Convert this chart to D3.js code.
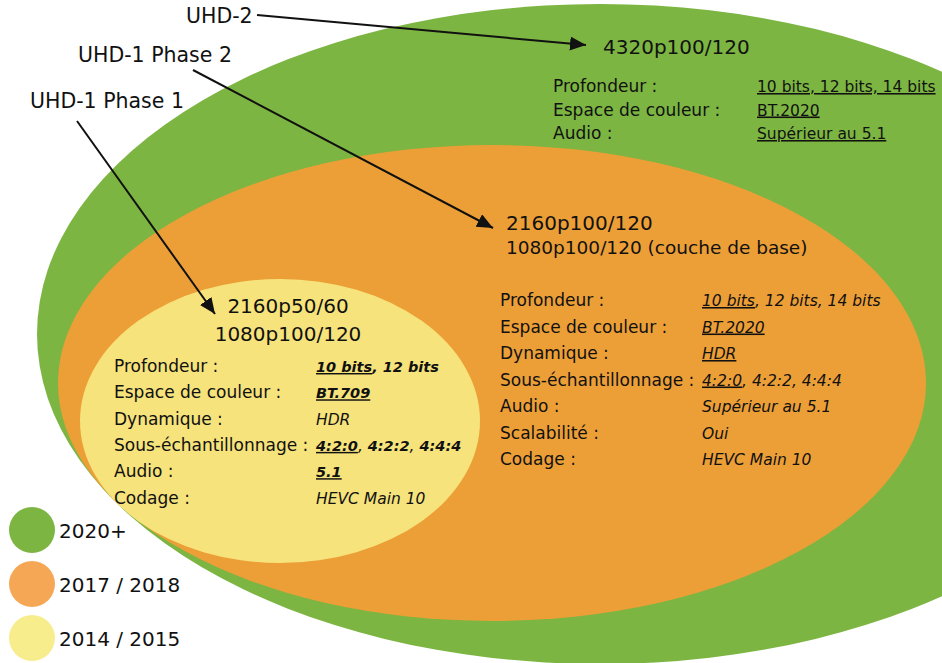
<!DOCTYPE html>
<meta charset="utf-8">
<html>
  <style>
    body { margin: 0; background: #fff; }
    svg text { font-family: "DejaVu Sans", sans-serif; fill: #111; }
    .arrow { stroke: #111; stroke-width: 2px; fill: none; }
  </style>
  <head>
    <script src="https://d3js.org/d3.v7.min.js"></script>
  </head>
  <body>
    <script>
      // diagram content
      var tiers = ["UHD-2", "UHD-1 Phase 2", "UHD-1 Phase 1"];
      var legendYears = ["2020+", "2017 / 2018", "2014 / 2015"];
      var formats = [["4320p100/120"],
                     ["2160p100/120", "1080p100/120 (couche de base)"],
                     ["2160p50/60", "1080p100/120"]];

      // "_" toggles underline, "*" toggles bold
      var uhd2Labels = ["Profondeur :", "Espace de couleur :", "Audio :"];
      var uhd2Values = ["_10 bits, 12 bits, 14 bits_", "_BT.2020_", "_Supérieur au 5.1_"];

      var phase2Labels = ["Profondeur :", "Espace de couleur :", "Dynamique :", "Sous-échantillonnage :",
                          "Audio :", "Scalabilité :", "Codage :"];
      var phase2Values = ["_10 bits_, 12 bits, 14 bits", "_BT.2020_", "_HDR_", "_4:2:0_, 4:2:2, 4:4:4",
                          "Supérieur au 5.1", "Oui", "HEVC Main 10"];

      var phase1Labels = ["Profondeur :", "Espace de couleur :", "Dynamique :", "Sous-échantillonnage :",
                          "Audio :", "Codage :"];
      var phase1Values = ["*_10 bits_, 12 bits*", "*_BT.709_*", "HDR", "*_4:2:0_*, *4:2:2*, *4:4:4*",
                          "*_5.1_*", "HEVC Main 10"];

      // layout (pixels)
      var width = 942, height = 663;
      var ellipses = [
        {cx: 600, cy: 334, rx: 563, ry: 330, fill: "#7cb542"},
        {cx: 492, cy: 383, rx: 434, ry: 238, fill: "#ed9f37"},
        {cx: 280, cy: 421, rx: 200, ry: 142, fill: "#f6e37b"}
      ];
      var legendFill = ["#7cb542", "#f6a755", "#f7ed8c"];
      var arrows = [
        {x1: 257, y1: 15, x2: 586, y2: 45, lx: 186, ly: 23},
        {x1: 193, y1: 70, x2: 493, y2: 228, lx: 78, ly: 62},
        {x1: 77, y1: 121, x2: 215, y2: 314, lx: 30, ly: 108}
      ];

      var svg = d3.select("body").append("svg")
          .attr("width", width)
          .attr("height", height);

      svg.append("defs").append("marker")
          .attr("id", "head")
          .attr("markerUnits", "userSpaceOnUse")
          .attr("markerWidth", 18).attr("markerHeight", 16)
          .attr("refX", 16).attr("refY", 7)
          .attr("orient", "auto")
        .append("path")
          .attr("d", "M0,0 L16,7 L0,14 Z")
          .attr("fill", "#111");

      svg.selectAll("ellipse.zone").data(ellipses).enter().append("ellipse")
          .attr("class", "zone")
          .attr("cx", function(d) { return d.cx; })
          .attr("cy", function(d) { return d.cy; })
          .attr("rx", function(d) { return d.rx; })
          .attr("ry", function(d) { return d.ry; })
          .attr("fill", function(d) { return d.fill; });

      // tier labels + arrows
      svg.selectAll("line.arrow").data(arrows).enter().append("line")
          .attr("class", "arrow")
          .attr("x1", function(d) { return d.x1; })
          .attr("y1", function(d) { return d.y1; })
          .attr("x2", function(d) { return d.x2; })
          .attr("y2", function(d) { return d.y2; })
          .attr("marker-end", "url(#head)");

      svg.selectAll("text.tier").data(tiers).enter().append("text")
          .attr("class", "tier")
          .attr("x", function(d, i) { return arrows[i].lx; })
          .attr("y", function(d, i) { return arrows[i].ly; })
          .style("font-size", "20.5px")
          .text(function(d) { return d; });

      // headings
      svg.append("text").attr("x", 603).attr("y", 54).style("font-size", "20px").text(formats[0][0]);
      svg.append("text").attr("x", 506).attr("y", 230).style("font-size", "20px").text(formats[1][0]);
      svg.append("text").attr("x", 506).attr("y", 254).style("font-size", "18.5px").text(formats[1][1]);
      svg.selectAll("text.f3").data(formats[2]).enter().append("text")
          .attr("class", "f3")
          .attr("x", 288)
          .attr("y", function(d, i) { return 313 + i * 28; })
          .attr("text-anchor", "middle")
          .style("font-size", "20px")
          .text(function(d) { return d; });

      function segments(s) {
        var out = [], u = false, b = false, buf = "";
        for (var k = 0; k < s.length; k++) {
          var ch = s[k];
          if (ch === "_" || ch === "*") {
            if (buf) out.push({t: buf, u: u, b: b});
            buf = "";
            if (ch === "_") u = !u; else b = !b;
          } else buf += ch;
        }
        if (buf) out.push({t: buf, u: u, b: b});
        return out;
      }

      function specBlock(labels, values, o) {
        var g = svg.append("g");
        g.selectAll("text.lab").data(labels).enter().append("text")
            .attr("x", o.lx)
            .attr("y", function(d, i) { return o.y0 + i * o.step; })
            .style("font-size", "17px")
            .text(function(d) { return d; });
        g.selectAll("text.val").data(values).enter().append("text")
            .attr("x", o.vx)
            .attr("y", function(d, i) { return o.y0 + i * o.step; })
            .style("font-style", o.italic ? "italic" : "normal")
            .style("font-size", "15.5px")
          .selectAll("tspan").data(function(d) { return segments(d); }).enter().append("tspan")
            .style("text-decoration", function(d) { return d.u ? "underline" : "none"; })
            .style("font-weight", function(d) { return d.b ? "bold" : "normal"; })
            .style("font-size", function(d) { return d.b ? "14.5px" : null; })
            .text(function(d) { return d.t; });
      }

      specBlock(uhd2Labels, uhd2Values, {lx: 553, vx: 757, y0: 92, step: 23.5, italic: false});
      specBlock(phase2Labels, phase2Values, {lx: 500, vx: 702, y0: 306, step: 26.5, italic: true});
      specBlock(phase1Labels, phase1Values, {lx: 114, vx: 316, y0: 372, step: 26.3, italic: true});

      // legend
      var legend = svg.selectAll("g.legend").data(legendYears).enter().append("g")
          .attr("class", "legend")
          .attr("transform", function(d, i) { return "translate(32," + (530 + i * 54) + ")"; });
      legend.append("circle")
          .attr("r", 23)
          .attr("fill", function(d, i) { return legendFill[i]; });
      legend.append("text")
          .attr("x", 27).attr("y", 8)
          .style("font-size", "20px")
          .text(function(d) { return d; });
    </script>
  </body>
</html>
